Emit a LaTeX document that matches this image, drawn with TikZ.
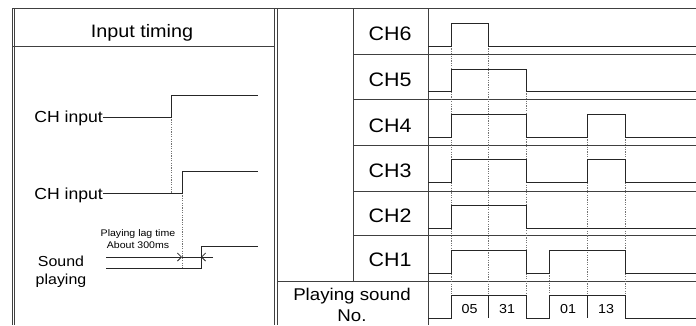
\documentclass[tikz,border=0pt]{standalone}
\usepackage{fontspec}
\setmainfont[FakeStretch=1.1]{Liberation Sans}
\usetikzlibrary{arrows.meta}
\begin{document}
\begin{tikzpicture}[x=1pt,y=-1pt,
  grid/.style={draw=black!75,line width=0.8pt},
  wave/.style={draw=black!85,line width=0.9pt},
  guide/.style={draw=black!55,line width=0.8pt,dash pattern=on 1.2pt off 1.2pt},
  lbl/.style={anchor=base,inner sep=0pt,font=\fontsize{19.5}{22}\selectfont},
  txt/.style={anchor=base,inner sep=0pt},
  small/.style={anchor=base,inner sep=0pt,font=\fontsize{9.6}{11}\selectfont},
  num/.style={anchor=base,inner sep=0pt,font=\fontsize{13}{15}\selectfont},
  barb/.style={-{Straight Barb[length=4pt,width=8pt]},draw=black!85,line width=0.8pt}]
\useasboundingbox (0,0) rectangle (696,325);
% frame
\draw[grid] (12,8) -- (696,8);
\draw[grid,line width=0.6pt] (12,8) -- (12,325) (14,8) -- (14,325);
\draw[grid,line width=0.6pt] (274,8) -- (274,325) (277.5,8) -- (277.5,325);
\draw[grid] (12,46) -- (274,46);
\draw[grid] (353,8) -- (353,281);
\draw[grid] (428,8) -- (428,325);
\foreach \yy in {54,99,145,191,235} \draw[grid] (353,\yy) -- (696,\yy);
\draw[grid] (277.5,281) -- (696,281);
% left texts
\node[txt,font=\fontsize{18}{21}\selectfont] (title) at (142,37) {Input timing};
\node[txt,font=\fontsize{16}{19}\selectfont,anchor=base east] (ci1) at (103,122) {CH input};
\node[txt,font=\fontsize{16}{19}\selectfont,anchor=base east] (ci2) at (103,199) {CH input};
\node[txt,font=\fontsize{14.5}{17}\selectfont] (snd) at (61,266) {Sound};
\node[txt,font=\fontsize{14.5}{17}\selectfont] (sndp) at (61,284) {playing};
\node[small] (lag1) at (138,236) {Playing lag time};
\node[small] (lag2) at (138,248) {About 300ms};
% left waveforms
\coordinate (a1) at (171,117);
\coordinate (a2) at (182,193);
\coordinate (s0) at (106,268);
\coordinate (s1) at (201,268);
\draw[guide] (a1) -- (171,193);
\draw[guide] (a2) -- (182,268);
\draw[wave] (ci1.east |- a1) -- (a1) -- (171,95) -- (258,95);
\draw[wave] (ci2.east |- a2) -- (a2) -- (182,171) -- (258,171);
\draw[wave] (s0) -- (s1) -- (201,246) -- (258,246);
\coordinate (l0) at (106,257);
\coordinate (l1) at (182,257);
\coordinate (l2) at (201,257);
\coordinate (l3) at (213,257);
\draw[barb] (l0) -- (l1);
\draw[wave,line width=0.8pt] (l1) -- (l2);
\draw[barb] (l3) -- (l2);
% channel labels
\node[lbl] (ch6) at (390,40) {CH6};
\node[lbl] (ch5) at (390,86) {CH5};
\node[lbl] (ch4) at (390,132) {CH4};
\node[lbl] (ch3) at (390,177) {CH3};
\node[lbl] (ch2) at (390,222) {CH2};
\node[lbl] (ch1) at (390,266) {CH1};
\node[txt,font=\fontsize{17}{20}\selectfont] (psn1) at (352,300.5) {Playing sound};
\node[txt,font=\fontsize{17}{20}\selectfont] (psn2) at (352,321.5) {No.};
% guides
\draw[guide] (451,46) -- (451,295);
\draw[guide] (488,46) -- (488,295);
\draw[guide] (526,91) -- (526,295);
\draw[guide] (549,273) -- (549,295);
\draw[guide] (587,137) -- (587,295);
\draw[guide] (625,137) -- (625,295);
% waveforms
\draw[wave] (428,46) -- (451,46) -- (451,23) -- (488,23) -- (488,46) -- (696,46);
\draw[wave] (428,91) -- (451,91) -- (451,69) -- (526,69) -- (526,91) -- (696,91);
\draw[wave] (428,137) -- (451,137) -- (451,114) -- (526,114) -- (526,137) -- (587,137) -- (587,114) -- (625,114) -- (625,137) -- (696,137);
\draw[wave] (428,182) -- (451,182) -- (451,159) -- (526,159) -- (526,182) -- (587,182) -- (587,159) -- (625,159) -- (625,182) -- (696,182);
\draw[wave] (428,228) -- (451,228) -- (451,205) -- (526,205) -- (526,228) -- (696,228);
\draw[wave] (428,273) -- (451,273) -- (451,250) -- (526,250) -- (526,273) -- (549,273) -- (549,250) -- (625,250) -- (625,273) -- (696,273);
\draw[wave] (428,318) -- (451,318) -- (451,295) -- (526,295) -- (526,318) -- (549,318) -- (549,295) -- (625,295) -- (625,318) -- (696,318);
\draw[wave] (488,295) -- (488,318);
\draw[wave] (587,295) -- (587,318);
\node[num] (n05) at (469.5,313) {05};
\node[num] (n31) at (507,313) {31};
\node[num] (n01) at (568,313) {01};
\node[num] (n13) at (606,313) {13};
\end{tikzpicture}
\end{document}
